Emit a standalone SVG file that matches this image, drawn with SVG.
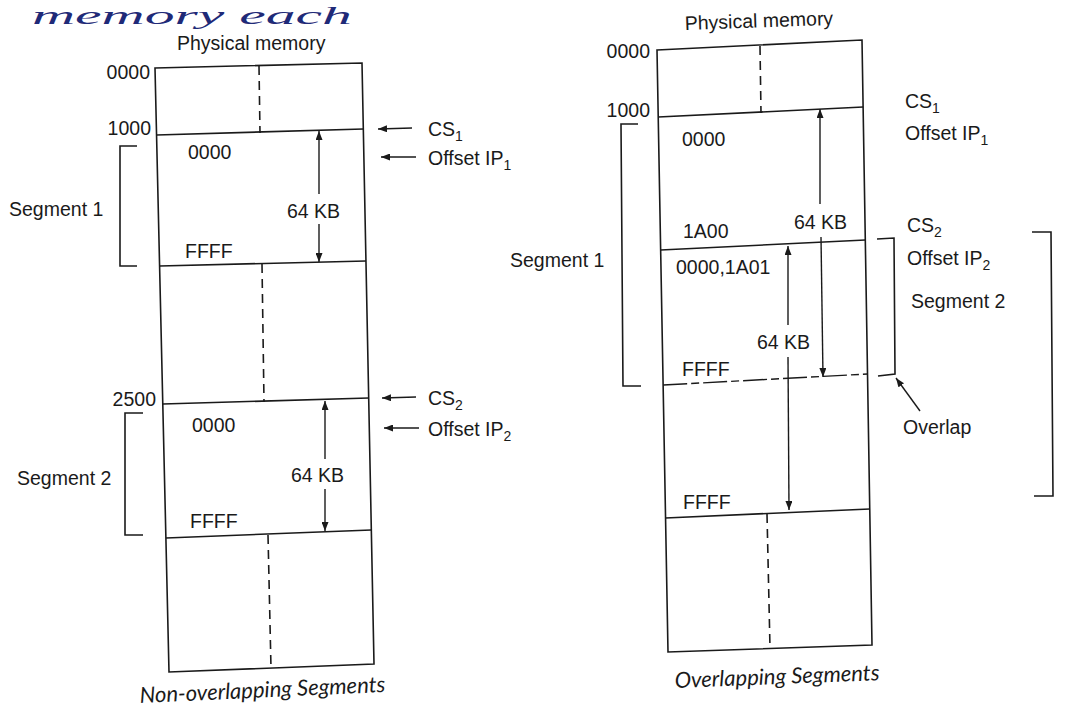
<svg xmlns="http://www.w3.org/2000/svg" width="1087" height="711" viewBox="0 0 1087 711">
<defs>
<style>
.ln{stroke:#1a1a1a;stroke-width:1.6;fill:none}
.ds{stroke:#1a1a1a;stroke-width:1.6;fill:none;stroke-dasharray:9 6}
.dd{stroke:#1a1a1a;stroke-width:1.4;fill:none;stroke-dasharray:24 4 8 4}
.ar{stroke:#1a1a1a;stroke-width:1.4;fill:none;marker-end:url(#ah)}
.t{font-family:"Liberation Sans",Arial,sans-serif;font-size:19.5px;fill:#1a1a1a}
.e{text-anchor:end}
.cap{font-family:Lato,"Open Sans",sans-serif;font-style:italic;font-size:22px;fill:#1a1a1a}
.hw{font-family:"Liberation Serif",serif;font-style:italic;font-size:25px;fill:#1f2a78}
</style>
<marker id="ah" markerUnits="userSpaceOnUse" markerWidth="10" markerHeight="7" refX="9" refY="3.5" orient="auto">
<path d="M0,0 L9,3.5 L0,7 z" fill="#1a1a1a"/>
</marker>
</defs>
<rect width="1087" height="711" fill="#ffffff"/>
<text class="hw" x="32" y="24" textLength="320" lengthAdjust="spacingAndGlyphs">memory  each</text>

<g id="left-memory">
<text class="t" x="177" y="50">Physical memory</text>
<polygon class="ln" points="155,68 362,63 374,664 169,672"/>
<line class="ln" x1="156.5" y1="135" x2="363.3" y2="129"/>
<line class="ln" x1="159.6" y1="266" x2="366" y2="261"/>
<line class="ln" x1="162.8" y1="404" x2="368.7" y2="398"/>
<line class="ln" x1="166" y1="538" x2="371.3" y2="530"/>
<line class="ds" x1="259" y1="66" x2="260" y2="133"/>
<line class="ds" x1="262" y1="264" x2="264" y2="402"/>
<line class="ds" x1="268" y1="535" x2="271" y2="668"/>
<text class="t e" x="150" y="79">0000</text>
<text class="t e" x="151" y="135">1000</text>
<text class="t e" x="156" y="406">2500</text>
<text class="t" x="188" y="159">0000</text>
<text class="t" x="185" y="258">FFFF</text>
<text class="t" x="192" y="432">0000</text>
<text class="t" x="190" y="528">FFFF</text>
<text class="t" x="287" y="218">64 KB</text>
<text class="t" x="291" y="482">64 KB</text>
<text class="t" x="9" y="216">Segment 1</text>
<text class="t" x="17" y="485">Segment 2</text>
<text class="t" x="428" y="136">CS<tspan font-size="14" dy="5">1</tspan></text>
<text class="t" x="428" y="165">Offset IP<tspan font-size="14" dy="5">1</tspan></text>
<text class="t" x="428" y="405">CS<tspan font-size="14" dy="5">2</tspan></text>
<text class="t" x="428" y="436">Offset IP<tspan font-size="14" dy="5">2</tspan></text>
<text class="cap" x="140" y="703" transform="rotate(-2.6 140 703)">Non-overlapping Segments</text>
</g>

<g id="right-memory">
<text class="t" x="685" y="30" transform="rotate(-2 685 30)">Physical memory</text>
<polygon class="ln" points="657,50 862,40 872,645 668,652"/>
<line class="ln" x1="658.2" y1="117" x2="863.1" y2="107"/>
<line class="ln" x1="660.6" y1="250" x2="865.3" y2="240"/>
<line class="dd" x1="663.2" y1="385" x2="867.5" y2="374"/>
<line class="ln" x1="665.5" y1="518" x2="869.9" y2="509"/>
<line class="ds" x1="760" y1="46" x2="761" y2="113"/>
<line class="ds" x1="767" y1="514" x2="770" y2="648"/>
<text class="t e" x="650" y="58">0000</text>
<text class="t e" x="650" y="117">1000</text>
<text class="t" x="682" y="146">0000</text>
<text class="t" x="683" y="238">1A00</text>
<text class="t" x="676" y="274">0000,1A01</text>
<text class="t" x="682" y="376">FFFF</text>
<text class="t" x="683" y="509">FFFF</text>
<text class="t" x="794" y="229">64 KB</text>
<text class="t" x="757" y="349">64 KB</text>
<text class="t" x="510" y="267">Segment 1</text>
<text class="t" x="905" y="108">CS<tspan font-size="14" dy="5">1</tspan></text>
<text class="t" x="905" y="140">Offset IP<tspan font-size="14" dy="5">1</tspan></text>
<text class="t" x="907" y="232">CS<tspan font-size="14" dy="5">2</tspan></text>
<text class="t" x="907" y="265">Offset IP<tspan font-size="14" dy="5">2</tspan></text>
<text class="t" x="911" y="308">Segment 2</text>
<text class="t" x="903" y="434">Overlap</text>
<text class="cap" x="675" y="688" transform="rotate(-2.2 675 688)">Overlapping Segments</text>
</g>

<g id="connectors">
<line class="ar" x1="412" y1="128" x2="378" y2="129"/>
<line class="ar" x1="416" y1="157" x2="381" y2="157"/>
<line class="ar" x1="416" y1="397" x2="382" y2="398"/>
<line class="ar" x1="419" y1="428" x2="384" y2="428"/>
<line class="ar" x1="319" y1="194" x2="319" y2="131"/>
<line class="ar" x1="319" y1="224" x2="319" y2="262"/>
<line class="ar" x1="325" y1="459" x2="325" y2="401"/>
<line class="ar" x1="325" y1="489" x2="325" y2="531"/>
<polyline class="ln" points="137,146 120,146 120,266 137,266"/>
<polyline class="ln" points="143,413 125,413 125,535 143,535"/>
<line class="ar" x1="820" y1="204" x2="820" y2="109"/>
<line class="ar" x1="821" y1="237" x2="823" y2="377"/>
<line class="ar" x1="788" y1="325" x2="788" y2="246"/>
<line class="ar" x1="788" y1="357" x2="789" y2="510"/>
<polyline class="ln" points="638,124 621,124 623,386 641,386"/>
<polyline class="ln" points="877,239 894,238 895,374 878,376"/>
<polyline class="ln" points="1032,232 1051,232 1053,496 1034,496"/>
<line class="ar" x1="920" y1="411" x2="896" y2="378"/>
</g>
</svg>
